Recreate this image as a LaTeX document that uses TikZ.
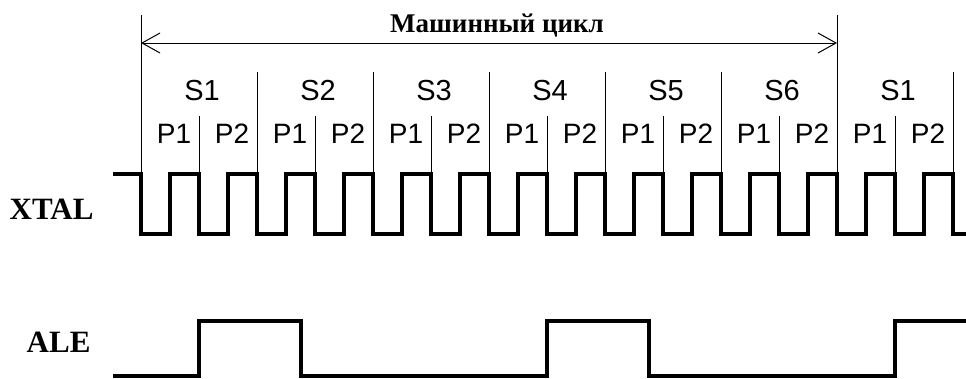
\documentclass[tikz,border=0pt]{standalone}
\usepackage{fontspec}
\setmainfont{Liberation Serif}
\setsansfont{Liberation Sans}
\usetikzlibrary{arrows.meta}

\begin{document}
\begin{tikzpicture}[x=1pt,y=-1pt,
	wave/.style={line width=4pt},
	tick/.style={line width=1pt},
	slabel/.style={font=\sffamily\fontsize{29}{29}\selectfont, anchor=base},
	plabel/.style={font=\sffamily\fontsize{28}{28}\selectfont, anchor=base},
	signame/.style={font=\bfseries\fontsize{31}{31}\selectfont, anchor=base east},
	title/.style={font=\bfseries\fontsize{27}{27}\selectfont, anchor=base}]
\useasboundingbox (0,0) rectangle (966,378);

% machine cycle
\coordinate (cycA) at (141,43);
\coordinate (cycB) at (837,43);
\node[title] (cyc) at (497,32) {Машинный цикл};
\draw[tick] (141,15) -- (141,174);
\draw[tick] (837,15) -- (837,174);
\draw[tick, {Straight Barb[length=18pt,width=20pt]}-{Straight Barb[length=18pt,width=20pt]}] (cycA) -- (cycB);

% state and phase marks
\foreach \i in {1,...,11,13,14}{
	\pgfmathsetmacro\tx{141+58*\i}
	\ifodd\i
		\draw[tick] (\tx,116) -- (\tx,174);
	\else
		\draw[tick] (\tx,72) -- (\tx,174);
	\fi
}
\foreach \s [count=\k from 0] in {1,...,6,1}
	\node[slabel] (s\k) at ({202+116*\k},100) {S\s};
\foreach \i in {0,...,13}{
	\pgfmathtruncatemacro\p{mod(\i,2)+1}
	\node[plabel] (p\i) at ({174+58*\i},143) {P\p};
}

% XTAL
\node[signame] (xtal) at (97,219) {XTAL};
\draw[wave] (113,174) foreach \i in {0,...,13} { -- ({141+58*\i},174) -- ({141+58*\i},234) -- ({170+58*\i},234) -- ({170+58*\i},174) } -- (953,174) -- (953,234) -- (970,234);

% ALE
\node[signame] (ale) at (94,352) {ALE};
\draw[wave] (113,376) -- (199,376) -- (199,321) -- (301,321) -- (301,376) -- (547,376) -- (547,321) -- (649,321) -- (649,376) -- (895,376) -- (895,321) -- (970,321);
\end{tikzpicture}
\end{document}
